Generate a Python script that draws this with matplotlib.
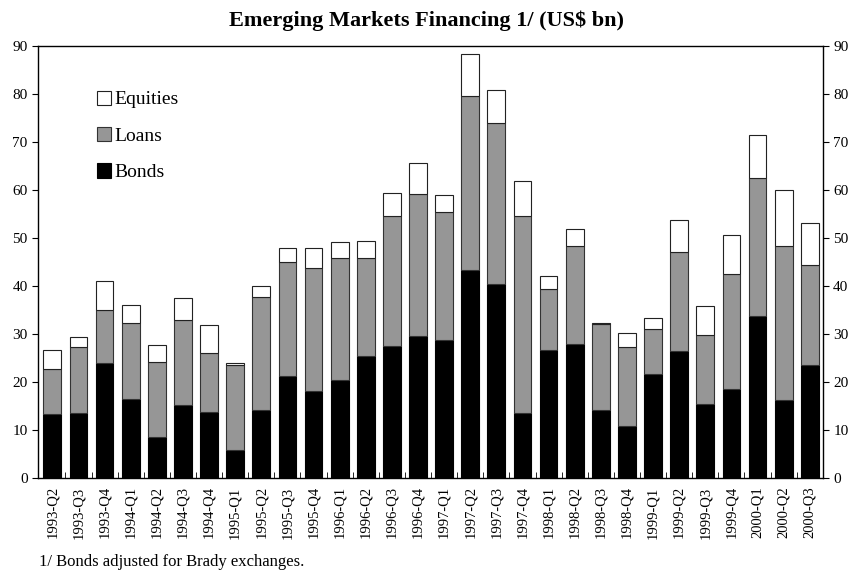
import numpy as np
import matplotlib
matplotlib.use("Agg")
import matplotlib.pyplot as plt

plt.rcParams['font.family'] = ['Liberation Serif', 'DejaVu Serif']

quarters = ['1993-Q2', '1993-Q3', '1993-Q4', '1994-Q1', '1994-Q2', '1994-Q3',
            '1994-Q4', '1995-Q1', '1995-Q2', '1995-Q3', '1995-Q4', '1996-Q1',
            '1996-Q2', '1996-Q3', '1996-Q4', '1997-Q1', '1997-Q2', '1997-Q3',
            '1997-Q4', '1998-Q1', '1998-Q2', '1998-Q3', '1998-Q4', '1999-Q1',
            '1999-Q2', '1999-Q3', '1999-Q4', '2000-Q1', '2000-Q2', '2000-Q3']

# cumulative tops
bonds = [13.3, 13.5, 23.9, 16.4, 8.6, 15.3, 13.8, 5.8, 14.2, 21.2,
         18.2, 20.4, 25.5, 27.6, 29.6, 28.8, 43.4, 40.4, 13.5, 26.7,
         28.0, 14.1, 10.9, 21.7, 26.4, 15.5, 18.5, 33.8, 16.2, 23.6]
loans_top = [22.7, 27.4, 35.0, 32.2, 24.1, 32.9, 26.0, 23.6, 37.7, 45.1,
             43.8, 45.8, 45.9, 54.7, 59.3, 55.4, 79.7, 74.0, 54.7, 39.3,
             48.3, 32.1, 27.4, 31.0, 47.2, 29.8, 42.6, 62.5, 48.3, 44.4]
total = [26.6, 29.3, 41.0, 36.0, 27.8, 37.6, 31.9, 24.0, 40.1, 48.0,
         48.0, 49.2, 49.3, 59.5, 65.7, 59.0, 88.3, 80.8, 62.0, 42.2,
         51.9, 32.3, 30.2, 33.4, 53.8, 35.8, 50.7, 71.5, 60.0, 53.2]

bonds = np.array(bonds)
loans = np.array(loans_top) - bonds
equities = np.array(total) - np.array(loans_top)

fig = plt.figure(figsize=(8.54, 5.71), dpi=100)
ax = fig.add_axes([0.0445, 0.163, 0.919, 0.756])

x = np.arange(len(quarters))
w = 0.68
ax.bar(x, bonds, w, color='black', edgecolor='black', linewidth=0.8, label='Bonds')
ax.bar(x, loans, w, bottom=bonds, color='#969696', edgecolor='#333333', linewidth=0.8, label='Loans')
ax.bar(x, equities, w, bottom=np.array(loans_top), color='white', edgecolor='#222222', linewidth=0.8, label='Equities')

ax.set_xlim(-0.55, len(quarters) - 0.58)
ax.set_ylim(0, 90)
ax.set_yticks(range(0, 91, 10))
ax.tick_params(axis='y', direction='out', length=4, labelsize=11, right=True, labelright=True)

ax.set_xticks(x)
ax.set_xticklabels(quarters, rotation=90, fontsize=10.5)
ax.tick_params(axis='x', length=0, pad=6)
ax.set_xticks(np.arange(len(quarters)) + 0.5, minor=True)
ax.tick_params(axis='x', which='minor', direction='in', length=4)

for s in ax.spines.values():
    s.set_linewidth(1.0)

handles, labels = ax.get_legend_handles_labels()
ax.legend(handles[::-1], labels[::-1], loc='upper left', bbox_to_anchor=(0.0625, 0.92),
          frameon=False, fontsize=14, handlelength=0.75, handleheight=0.75,
          handletextpad=0.15, labelspacing=0.95, borderpad=0)

fig.text(0.5, 0.963, 'Emerging Markets Financing 1/ (US$ bn)', ha='center', va='center',
         fontsize=16, fontweight='bold')
fig.text(0.046, 0.016, '1/ Bonds adjusted for Brady exchanges.', ha='left', va='center',
         fontsize=12)

fig.savefig('out.png', dpi=100)
